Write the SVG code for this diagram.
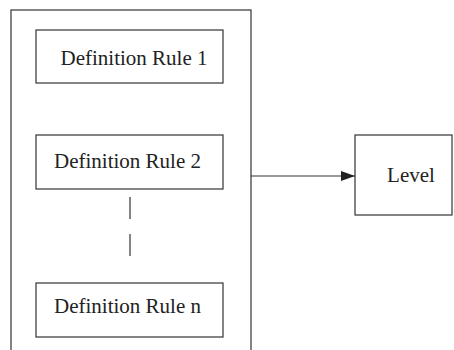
<svg xmlns="http://www.w3.org/2000/svg" width="454" height="350" viewBox="0 0 454 350">
<style>
.box{fill:#fff;stroke:#333;stroke-width:1.2}
.t{font-family:"Liberation Serif",serif;font-size:21px;fill:#222;text-anchor:middle}
.ln{stroke:#333;stroke-width:1.2;fill:none}
</style>
<defs>
<marker id="ah" markerWidth="14" markerHeight="10" refX="14" refY="5" orient="auto" markerUnits="userSpaceOnUse">
<path d="M0,0 L14,5 L0,10 Z" fill="#222"/>
</marker>
</defs>
<g id="container"><rect class="box" x="11" y="10" width="240" height="360"/></g>
<g id="rule1"><rect class="box" x="36" y="30" width="187" height="53"/><text class="t" x="134" y="65">Definition Rule 1</text></g>
<g id="rule2"><rect class="box" x="36" y="135" width="187" height="54"/><text class="t" x="127.5" y="168">Definition Rule 2</text></g>
<g id="rulen"><rect class="box" x="36" y="283" width="187" height="54"/><text class="t" x="127.5" y="313">Definition Rule n</text></g>
<g id="level"><rect class="box" x="355" y="135" width="97" height="80"/><text class="t" x="411" y="182">Level</text></g>
<g id="connectors">
<line class="ln" x1="130" y1="197" x2="130" y2="219"/>
<line class="ln" x1="130" y1="234" x2="130" y2="256"/>
<line class="ln" x1="251" y1="176" x2="355" y2="176" marker-end="url(#ah)"/>
</g>
</svg>
